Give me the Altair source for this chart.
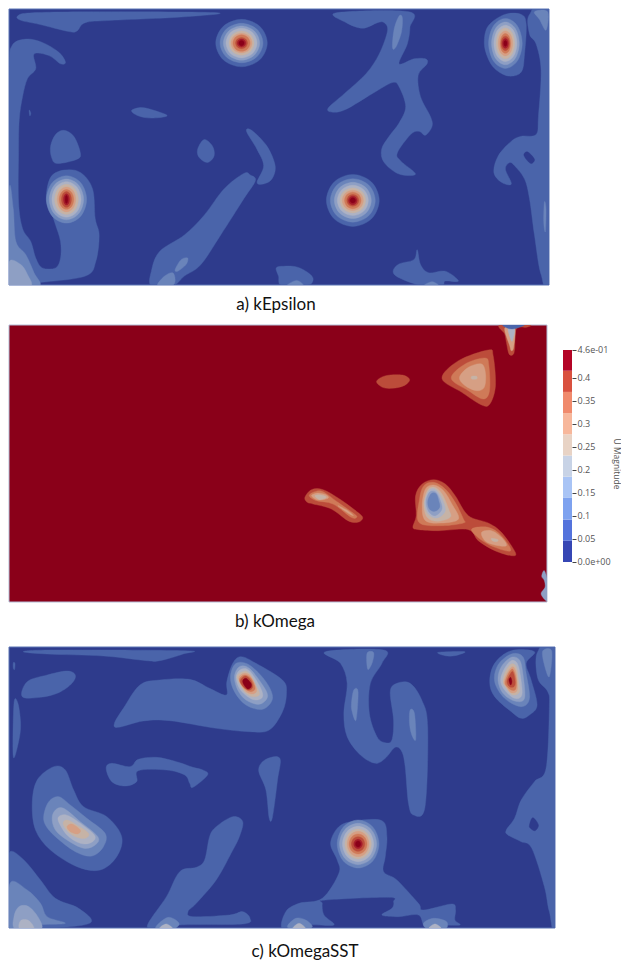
import itertools
import altair as alt
import pandas as pd

LEVELS = ["#2e3b8c", "#4a64aa", "#6a84ba", "#8e9fc4", "#adb2c4", "#c6b3a6",
          "#d69f84", "#cf7a58", "#bc4c3a", "#a51d2b", "#8a0019"]

# Contours are (level, outline), in 3x crop pixels.
A_LEFT = [
    (1, [(35,35),(80,25),(300,22),(640,25),(530,38),(320,48),(240,55),(215,80),(190,82),(100,60),(45,48)]),
    (1, [(18,125),(60,105),(110,115),(160,145),(180,175),(165,180),(130,155),(85,150),(90,195),(65,225),(50,280),(40,350),(38,450),(38,600),(50,680),(75,720),(90,770),(110,800),(150,800),(165,770),(165,720),(150,670),(140,640),(122,590),(135,525),(175,503),(225,510),(262,560),(270,650),(282,700),(272,780),(240,825),(100,845),(5,855),(5,500),(8,200)]),
    (1, [(70,320),(75,330),(72,338)]),
    (1, [(380,322),(410,313),(450,322),(488,338),(440,345),(400,338)]),
    (1, [(135,430),(150,395),(175,382),(205,400),(225,450),(215,470),(155,483),(138,465)]),
    (1, [(580,440),(600,410),(625,430),(630,460),(610,480),(585,465)]),
    (1, [(728,385),(745,383),(790,430),(815,490),(805,530),(780,545),(760,540),(780,490),(760,440)]),
    (1, [(755,535),(720,590),(650,700),(590,790),(540,825),(505,855),(440,855),(440,810),(465,750),(540,700),(600,640),(660,560),(720,513),(740,518)]),
    (2, [(10,560),(22,620),(30,720),(60,760),(85,815),(100,855),(5,855)]),
    (2, [(512,805),(530,775),(550,770),(545,790),(520,810)]),
    (2, [(458,855),(480,825),(505,815),(512,840),(500,855)]),
    (3, [(10,780),(45,790),(65,820),(75,855),(10,855)]),
]
A_RIGHT = [
    (1, [(160,25),(380,22),(383,70),(375,120),(350,180),(395,165),(430,165),(435,180),(408,215),(415,280),(445,340),(450,370),(430,397),(410,385),(385,395),(345,450),(355,475),(400,515),(350,515),(305,480),(297,440),(320,400),(350,360),(370,310),(350,250),(330,237),(270,270),(190,318),(150,327),(135,315),(185,270),(250,210),(290,150),(315,80),(305,55),(285,55),(240,72),(190,55)]),
    (2, [(350,35),(360,40),(357,85),(340,130),(330,130),(335,75)]),
    (1, [(745,30),(812,10),(812,855),(780,820),(760,700),(745,590),(730,530),(700,490),(685,480),(672,500),(690,545),(660,540),(637,510),(650,460),(690,415),(720,400),(765,395),(772,340),(780,200),(765,120),(745,90)]),
    (0, [(728,455),(740,448),(760,470),(750,483),(735,470)]),
    (1, [(608,115),(620,65),(670,30),(720,30),(735,60),(730,150),(720,205),(680,217),(640,195),(618,160)]),
    (2, [(760,22),(800,22),(795,78),(775,45)]),
    (2, [(790,600),(795,620),(793,690),(788,660)]),
    (1, [(-22,800),(0,795),(40,797),(75,815),(90,835),(70,855),(-5,855),(-15,825)]),
    (2, [(10,855),(40,838),(60,855)]),
    (1, [(405,745),(415,790),(440,815),(490,810),(530,840),(490,840),(480,855),(420,855),(350,830),(332,810),(350,788),(395,775)]),
    (2, [(425,855),(450,842),(470,855)]),
]
# Concentric spots: centre x, centre y, then (rx, ry) from the outermost ring inward.
A_SPOTS = [
    (0, 0, 713, 117, 1, [(78,72),(65,60),(55,52),(47,45),(38,37),(32,30),(26,25),(18,17),(13,12),(8,8)]),
    (0, 0, 183, 592, 2, [(61,72),(52,62),(44,54),(36,46),(28,38),(22,30),(15,24),(9,17),(4,12)]),
    (280, 0, 210, 595, 1, [(80,79),(68,66),(56,55),(47,46),(39,38),(32,31),(25,25),(18,18),(13,13),(8,8)]),
    (280, 0, 672, 118, 2, [(51,76),(42,65),(35,55),(28,47),(22,38),(16,30),(13,22),(9,15),(5,9)]),
]

B_SHAPES = [
    (8, [(480,178),(530,125),(620,93),(635,110),(642,200),(625,255),(600,258),(540,220)]),
    (7, [(508,178),(550,135),(610,117),(622,140),(624,215),(605,240),(560,215)]),
    (6, [(533,175),(560,145),(600,135),(612,165),(608,205),(585,215),(550,200)]),
    (5, [(570,172),(585,172),(585,180),(570,180)]),
    (8, [(282,187),(310,170),(360,168),(382,182),(365,200),(330,208),(300,205)]),
    (8, [(65,535),(85,512),(120,512),(170,540),(225,580),(240,597),(225,610),(195,605),(145,570),(90,555),(72,550)]),
    (7, [(78,530),(95,518),(120,518),(165,550),(215,585),(222,595),(205,595),(150,555),(100,545)]),
    (6, [(85,530),(105,522),(130,528),(135,538),(105,543)]),
    (6, [(165,560),(195,575),(212,590),(195,582)]),
    (5, [(95,530),(115,528),(130,535),(110,542)]),
    (8, [(392,625),(402,590),(400,530),(420,495),(455,482),(490,495),(520,530),(560,590),(620,612),(660,640),(702,700),(690,710),(640,695),(590,665),(560,632),(470,635),(410,632)]),
    (7, [(410,610),(412,540),(425,500),(455,490),(490,510),(520,550),(545,600),(545,612),(480,620)]),
    (7, [(570,630),(620,625),(660,650),(688,695),(640,685),(595,660)]),
    (6, [(420,560),(430,510),(455,498),(485,515),(510,555),(530,600),(480,612),(430,605)]),
    (6, [(600,640),(630,635),(660,655),(675,680),(640,678),(610,665)]),
    (5, [(630,658),(650,662),(645,668),(632,665)]),
    (5, [(425,555),(437,512),(458,505),(480,525),(500,570),(505,595),(465,607),(435,595)]),
    (4, [(428,550),(440,515),(458,510),(478,535),(490,575),(465,597),(438,585)]),
    (3, [(432,548),(442,520),(460,518),(473,540),(480,570),(460,590),(440,578)]),
    (2, [(437,548),(447,524),(462,524),(470,545),(473,565),(458,577),(442,570)]),
    (8, [(655,18),(745,18),(735,25),(705,30),(700,90),(695,107),(683,105),(675,70),(670,45)]),
    (6, [(670,28),(700,28),(697,85),(690,95),(685,80)]),
    (4, [(680,28),(700,28),(695,60),(690,65)]),
    (1, [(665,15),(730,15),(705,28),(680,28)]),
    (3, [(782,772),(790,755),(800,790),(800,845),(780,825),(792,805),(790,785)]),
]

C_LEFT = [
    (1, [(58,35),(150,30),(545,32),(540,42),(470,62),(430,62),(300,48),(130,42)]),
    (1, [(28,68),(33,70),(32,88),(28,85)]),
    (1, [(55,170),(70,125),(130,105),(190,93),(215,105),(205,130),(165,158),(110,172)]),
    (1, [(30,190),(42,190),(50,250),(45,300),(28,350)]),
    (1, [(333,250),(360,205),(410,135),(470,120),(560,118),(620,145),(670,165),(672,125),(690,70),(715,50),(760,70),(840,120),(852,160),(840,215),(800,270),(740,275),(640,265),(500,242),(420,243),(345,262)]),
    (1, [(308,385),(325,370),(380,380),(405,358),(460,352),(520,365),(570,382),(600,390),(614,405),(570,442),(560,430),(545,405),(490,390),(405,392),(400,425),(365,438),(325,425)]),
    (1, [(768,390),(790,358),(832,355),(825,420),(810,530),(800,535),(790,450)]),
    (1, [(85,490),(100,420),(150,380),(185,390),(210,450),(240,500),(310,530),(355,590),(340,650),(290,690),(220,680),(140,630),(95,570)]),
    (2, [(120,525),(135,485),(165,470),(200,495),(250,535),(305,580),(300,620),(265,648),(215,635),(155,590),(125,555)]),
    (3, [(145,535),(155,510),(180,505),(230,545),(283,590),(275,615),(240,625),(190,600),(155,570)]),
    (4, [(163,540),(175,525),(200,530),(250,565),(275,590),(262,608),(230,610),(190,585)]),
    (5, [(178,550),(190,540),(220,555),(255,580),(245,595),(215,590),(190,572)]),
    (6, [(190,560),(205,552),(230,570),(222,582),(200,575)]),
    (1, [(18,635),(60,660),(110,720),(155,775),(225,805),(258,850),(100,868),(10,868),(10,700)]),
    (2, [(18,730),(70,750),(110,790),(130,830),(185,850),(100,855),(18,868)]),
    (3, [(30,830),(45,800),(75,800),(105,835),(110,868),(35,868)]),
    (4, [(48,868),(50,842),(75,842),(90,868)]),
    (1, [(435,850),(490,770),(530,695),(580,682),(605,660),(620,590),(640,560),(690,530),(720,545),(710,590),(685,640),(640,720),(580,790),(555,815),(570,830),(680,825),(720,815),(742,835),(720,852),(530,855),(500,868),(445,868)]),
    (2, [(458,860),(495,832),(528,850),(510,868),(470,868)]),
    (4, [(470,865),(490,852),(510,868)]),
    (2, [(683,110),(700,70),(740,75),(790,125),(810,175),(780,208),(730,195),(695,155)]),
    (3, [(695,110),(710,80),(740,85),(780,135),(795,170),(770,193),(730,180),(705,150)]),
    (4, [(700,110),(715,88),(740,92),(772,140),(780,170),(760,180),(735,170),(710,145)]),
    (5, [(703,112),(720,95),(740,100),(765,145),(770,165),(750,170),(725,155)]),
    (6, [(708,115),(725,100),(745,110),(762,150),(748,162),(725,150)]),
    (7, [(710,120),(725,105),(745,115),(757,145),(745,155),(725,145)]),
    (8, [(713,122),(728,108),(745,122),(750,142),(738,150),(722,140)]),
    (10, [(720,122),(730,115),(745,130),(745,142),(735,147),(724,135)]),
]
C_RIGHT = [
    (1, [(130,35),(305,30),(300,70),(265,130),(262,220),(285,290),(310,308),(330,300),(335,240),(325,155),(345,130),(385,130),(420,180),(438,260),(430,500),(395,525),(380,490),(370,380),(360,335),(340,322),(310,355),(280,370),(235,345),(195,290),(185,220),(195,130),(175,70)]),
    (2, [(255,40),(275,38),(270,70),(257,88)]),
    (2, [(215,150),(228,155),(222,240),(210,215),(208,190)]),
    (2, [(385,210),(398,220),(402,298),(390,285),(383,250)]),
    (1, [(145,610),(170,560),(220,543),(300,542),(315,590),(310,650),(305,695),(345,720),(410,790),(425,810),(510,792),(522,810),(520,840),(535,855),(480,855),(430,858),(410,825),(350,830),(300,825),(330,805),(335,785),(320,772),(130,780),(120,790),(125,825),(155,855),(85,855),(70,868),(0,868),(10,815),(50,790),(120,775),(170,700),(165,660)]),
    (2, [(15,862),(40,835),(70,840),(90,860),(65,868)]),
    (4, [(30,868),(50,850),(70,868)]),
    (2, [(425,850),(455,835),(495,845),(490,868),(440,868)]),
    (4, [(440,868),(460,852),(480,868)]),
    (1, [(625,125),(640,70),(690,32),(760,35),(735,70),(750,120),(768,195),(745,225),(720,235),(690,215),(640,170)]),
    (2, [(640,125),(650,75),(690,42),(725,50),(735,100),(745,175),(720,200),(670,175)]),
    (3, [(650,120),(660,80),(690,52),(715,60),(725,100),(730,175),(700,183),(665,160)]),
    (4, [(658,120),(670,85),(690,62),(708,70),(718,110),(722,165),(700,175),(670,150)]),
    (5, [(665,125),(672,95),(690,72),(705,80),(712,120),(715,155),(695,165),(675,145)]),
    (6, [(668,125),(680,95),(695,80),(705,100),(708,150),(690,158),(675,140)]),
    (7, [(672,125),(682,100),(695,88),(705,120),(703,148),(690,150),(676,138)]),
    (8, [(677,125),(685,105),(695,95),(702,125),(698,140),(685,140)]),
    (10, [(683,120),(688,112),(692,125),(688,135)]),
    (1, [(770,35),(830,25),(830,868),(805,815),(790,740),(752,625),(720,605),(680,585),(675,570),(700,535),(720,480),(760,425),(795,385),(805,200),(800,155),(770,115)]),
    (0, [(745,555),(755,533),(772,555),(762,572),(748,565)]),
    (2, [(785,33),(812,33),(805,110),(790,75)]),
    (1, [(470,37),(550,35),(520,47),(490,47)]),
]
C_SPOTS = [
    (280, 640, 228, 612, 2, [(63,72),(56,62),(47,53),(40,45),(33,38),(27,30),(20,22),(13,14),(8,9)]),
]

CBAR_COLORS = ["#3646b4", "#5473dc", "#7ea2ef", "#a9c4f5", "#c8d3e6",
               "#e8d3c5", "#f7b79b", "#f08a6c", "#d9513f", "#b40426"]
CBAR_BOUNDS = [0, 0.046, 0.092, 0.139, 0.185, 0.231, 0.277, 0.323, 0.369, 0.415, 0.46]
CBAR_TICKS = [0, 0.05, 0.1, 0.15, 0.2, 0.25, 0.3, 0.35, 0.4, 0.46]


def rings(ox, oy, cx, cy, first, radii):
    d = 0.707
    out = []
    for i, (rx, ry) in enumerate(radii):
        pts = [(cx + rx, cy), (cx + rx * d, cy + ry * d), (cx, cy + ry), (cx - rx * d, cy + ry * d),
               (cx - rx, cy), (cx - rx * d, cy - ry * d), (cx, cy - ry), (cx + rx * d, cy - ry * d)]
        out.append((min(first + i, 10), pts))
    return out


def to_image(shapes, ox, oy):
    return [(lv, [(ox + x / 3, oy + y / 3) for x, y in pts]) for lv, pts in shapes]


def panel(shapes, xdom, ydom, w, h, back, edge, label, label_dx=0, label_offset=11):
    xs = alt.Scale(domain=xdom, nice=False, zero=False)
    ys = alt.Scale(domain=[ydom[1], ydom[0]], nice=False, zero=False)
    X = alt.X("x:Q", scale=xs, axis=None)
    Y = alt.Y("y:Q", scale=ys, axis=None)
    base = alt.Chart(pd.DataFrame({"x": [xdom[0]], "x2": [xdom[1]], "y": [ydom[0]], "y2": [ydom[1]]})).mark_rect(
        fill=back, stroke=edge, strokeWidth=1
    ).encode(X, alt.X2("x2:Q"), Y, alt.Y2("y2:Q"))
    layers = [base]
    n = 0
    for lv, group in itertools.groupby(shapes, key=lambda s: s[0]):
        rows = []
        for _, pts in group:
            n += 1
            rows += [{"x": x, "y": y, "id": n, "seq": i} for i, (x, y) in enumerate(pts)]
        layers.append(
            alt.Chart(pd.DataFrame(rows)).mark_line(
                interpolate="cardinal-closed", fill=LEVELS[lv], stroke=LEVELS[lv],
                strokeWidth=0.4, clip=True
            ).encode(X, Y, detail="id:N", order="seq:Q")
        )
    return alt.layer(*layers).properties(
        width=w, height=h,
        title=alt.TitleParams(label, orient="bottom", anchor="middle", font="Lato", fontSize=17,
                              fontWeight="normal", color="#111111", offset=label_offset, dx=label_dx),
    )


def spots(items):
    out = []
    for s in items:
        out += to_image(rings(*s), s[0], s[1])
    return out


a_shapes = to_image(A_LEFT, 0, 0) + to_image(A_RIGHT, 280, 0)
a_shapes = sorted(a_shapes, key=lambda s: 1.5 if s[0] == 0 else s[0]) + spots(A_SPOTS)
b_shapes = to_image(B_SHAPES, 280, 320)
c_shapes = to_image(C_LEFT, 0, 640) + to_image(C_RIGHT, 280, 640) + spots(C_SPOTS)
c_base = [s for s in c_shapes if s[0] == 1]
c_hole = [s for s in c_shapes if s[0] == 0]
c_rest = [s for s in c_shapes if s[0] > 1]
c_shapes = c_base + c_hole + c_rest

pa = panel(a_shapes, [3, 548], [4.5, 284], 540, 276, LEVELS[0], "#5a74b4", "a) kEpsilon", -3, 11)
pb = panel(b_shapes, [3, 546], [326, 603], 538, 277, LEVELS[10], "#b3bdd6", "b) kOmega", -3, 11)
pc = panel(c_shapes, [5, 554], [647, 928], 546, 281, LEVELS[0], "#5a74b4", "c) kOmegaSST", 23, 15)

cbar_df = pd.DataFrame({
    "lo": CBAR_BOUNDS[:-1], "hi": CBAR_BOUNDS[1:], "c": CBAR_COLORS,
})
cbar = alt.Chart(cbar_df).mark_rect().encode(
    x=alt.value(0), x2=alt.value(9),
    y=alt.Y("lo:Q", scale=alt.Scale(domain=[-0.0868, 0.5142], nice=False, zero=False),
            axis=alt.Axis(orient="right", values=CBAR_TICKS, grid=False, domain=False, tickSize=4,
                          tickColor="#444444", labelColor="#555555", labelFont="Open Sans", labelFontSize=9,
                          labelPadding=1, labelOverlap=False,
                          labelExpr="datum.value == 0 ? '0.0e+00' : datum.value > 0.45 ? '4.6e-01' : format(datum.value, '.2~f')",
                          title="U Magnitude", titleFont="Open Sans", titleFontSize=8.5, titleFontWeight="normal",
                          titleColor="#555555", titlePadding=1)),
    y2="hi:Q",
    fill=alt.Fill("c:N", scale=None),
).properties(width=9, height=277)

row = alt.hconcat(pb, cbar, spacing=15)
top = alt.vconcat(pa, row, spacing=11)
chart = alt.vconcat(top, pc, spacing=16).properties(padding=0).configure_view(stroke=None)
chart.save("out.html", embed_options={"renderer": "svg", "actions": False})
